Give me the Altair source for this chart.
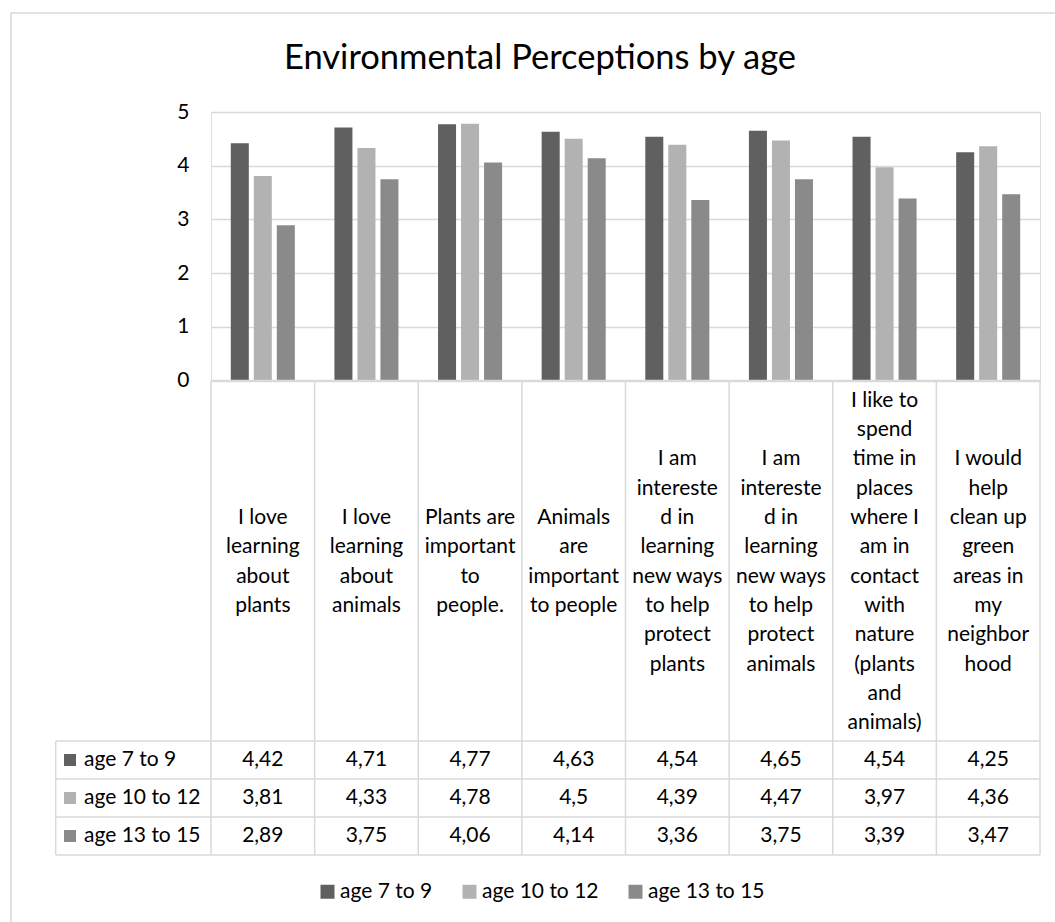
import altair as alt
import pandas as pd

# ---- data -------------------------------------------------------------
categories = [
    "I love learning about plants",
    "I love learning about animals",
    "Plants are important to people.",
    "Animals are important to people",
    "I am interested in learning new ways to help protect plants",
    "I am interested in learning new ways to help protect animals",
    "I like to spend time in places where I am in contact with nature (plants and animals)",
    "I would help clean up green areas in my neighborhood",
]
# category text as wrapped in the table header cells
category_lines = [
    ["I love", "learning", "about", "plants"],
    ["I love", "learning", "about", "animals"],
    ["Plants are", "important", "to", "people."],
    ["Animals", "are", "important", "to people"],
    ["I am", "intereste", "d in", "learning", "new ways", "to help", "protect", "plants"],
    ["I am", "intereste", "d in", "learning", "new ways", "to help", "protect", "animals"],
    ["I like to", "spend", "time in", "places", "where I", "am in", "contact", "with",
     "nature", "(plants", "and", "animals)"],
    ["I would", "help", "clean up", "green", "areas in", "my", "neighbor", "hood"],
]
series = ["age 7 to 9", "age 10 to 12", "age 13 to 15"]
age_7_9 = [4.42, 4.71, 4.77, 4.63, 4.54, 4.65, 4.54, 4.25]
age_10_12 = [3.81, 4.33, 4.78, 4.50, 4.39, 4.47, 3.97, 4.36]
age_13_15 = [2.89, 3.75, 4.06, 4.14, 3.36, 3.75, 3.39, 3.47]
y_ticks = [0, 1, 2, 3, 4, 5]
title_text = "Environmental Perceptions by age"

series_colors = ["#606060", "#b2b2b2", "#8a8a8a"]
grid_color = "#d9d9d9"
font = "Lato"

rows = []
for name, vals in zip(series, [age_7_9, age_10_12, age_13_15]):
    for cat, v in zip(categories, vals):
        rows.append({"category": cat, "series": name, "value": v,
                     "label": f"{v:g}".replace(".", ",")})
df = pd.DataFrame(rows)
header_df = pd.DataFrame({"category": categories, "lines": category_lines})
series_df = pd.DataFrame({"series": series})
one = pd.DataFrame({"k": [0]})

# ---- geometry (plot area is 829 x 268.5; table sits below it) ---------
W, H = 829, 268.5
row_tops = [629, 667, 705, 743]
table_left = -155.3
table_bottom = 743
header_mid = 450
line_h = 29.3

x_scale = alt.Scale(domain=categories, paddingInner=0, paddingOuter=0)
color_scale = alt.Scale(domain=series, range=series_colors)
row_scale = alt.Scale(type="point", domain=series, range=[648, 724], padding=0)

# ---- bars --------------------------------------------------------------
bars = alt.Chart(df).mark_bar().encode(
    x=alt.X("category:N", scale=x_scale, axis=None),
    xOffset=alt.XOffset("series:N",
                        scale=alt.Scale(domain=series, paddingInner=0.217, paddingOuter=0.86)),
    y=alt.Y("value:Q", scale=alt.Scale(domain=[0, 5], nice=False),
            axis=alt.Axis(values=y_ticks, grid=True, domain=False, ticks=False,
                          labelFont=font, labelFontSize=21, labelColor="#000000",
                          labelPadding=22, title=None,
                          gridColor=grid_color, gridWidth=1.3)),
    color=alt.Color("series:N", scale=color_scale,
                    legend=alt.Legend(orient="none", legendX=106, legendY=769,
                                      direction="horizontal", title=None,
                                      symbolType="square", symbolSize=196,
                                      symbolStrokeWidth=0, symbolOpacity=1,
                                      labelFont=font, labelFontSize=21,
                                      labelColor="#000000", labelOffset=2,
                                      columnPadding=26, padding=0, labelLimit=300)),
)

# ---- title ---------------------------------------------------------------
title = alt.Chart(one).mark_text(
    font=font, fontSize=34.5, color="#000000", align="center", baseline="alphabetic"
).encode(x=alt.value(329), y=alt.value(-43), text=alt.value(title_text))

# ---- data table ------------------------------------------------------------
table_top = alt.Chart(one).mark_rule(color=grid_color, strokeWidth=1.5).encode(
    x=alt.value(0), x2=alt.value(W), y=alt.value(H))
row_lines = [
    alt.Chart(one).mark_rule(color=grid_color, strokeWidth=1.5).encode(
        x=alt.value(table_left), x2=alt.value(W), y=alt.value(yy))
    for yy in row_tops
]
left_edge = alt.Chart(one).mark_rule(color=grid_color, strokeWidth=1.5).encode(
    x=alt.value(table_left), y=alt.value(row_tops[0]), y2=alt.value(table_bottom))
col_lines = alt.Chart(header_df).mark_rule(color=grid_color, strokeWidth=1.5).encode(
    x=alt.X("category:N", scale=x_scale, bandPosition=0, axis=None),
    y=alt.value(H), y2=alt.value(table_bottom))
col_last = alt.Chart(header_df).transform_filter(
    alt.datum.category == categories[-1]
).mark_rule(color=grid_color, strokeWidth=1.5).encode(
    x=alt.X("category:N", scale=x_scale, bandPosition=1, axis=None),
    y=alt.value(H), y2=alt.value(table_bottom))

# header cells: wrapped text block centred vertically in the header row
header = alt.Chart(header_df).transform_calculate(
    ypos=f"{header_mid} - (length(datum.lines) - 1) * {line_h} / 2"
).mark_text(
    font=font, fontSize=21, color="#000000", align="center", baseline="middle",
    lineHeight=line_h
).encode(
    x=alt.X("category:N", scale=x_scale, axis=None),
    y=alt.Y("ypos:Q", scale=None, axis=None),
    text="lines",
)

cells = alt.Chart(df).mark_text(
    font=font, fontSize=21, color="#000000", align="center", baseline="middle"
).encode(
    x=alt.X("category:N", scale=x_scale, axis=None),
    y=alt.Y("series:N", scale=row_scale, axis=None),
    text="label:N",
)

row_keys = alt.Chart(series_df).mark_square(size=144, opacity=1).encode(
    x=alt.value(-141),
    y=alt.Y("series:N", scale=row_scale, axis=None),
    color=alt.Color("series:N", scale=color_scale),
)
row_names = alt.Chart(series_df).mark_text(
    font=font, fontSize=21, color="#000000", align="left", baseline="middle"
).encode(
    x=alt.value(-127),
    y=alt.Y("series:N", scale=row_scale, axis=None),
    text="series:N",
)

# ---- chart frame -------------------------------------------------------------
frame = alt.Chart(one).mark_rect(fill=None, stroke=grid_color, strokeWidth=1.5).encode(
    x=alt.value(-200), y=alt.value(-99), x2=alt.value(870), y2=alt.value(830))

chart = alt.layer(
    frame, bars, title, table_top, *row_lines, left_edge, col_lines, col_last,
    header, cells, row_keys, row_names,
).resolve_scale(y="independent").properties(
    width=W, height=H,
    autosize=alt.AutoSizeParams(type="none"),
    padding={"left": 211, "top": 112, "right": 15, "bottom": 541.5},
).configure_view(stroke=None).configure(background="white")

chart.save("out.html", embed_options={"renderer": "svg", "actions": False})
